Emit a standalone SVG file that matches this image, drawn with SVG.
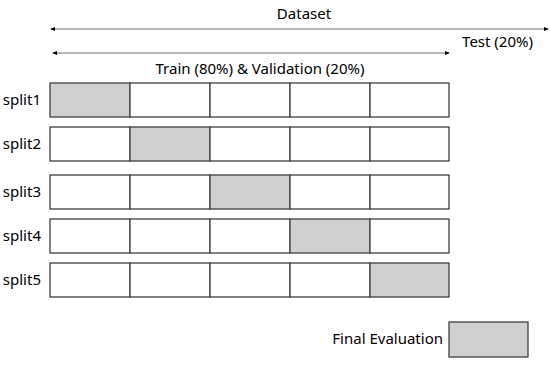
<svg xmlns="http://www.w3.org/2000/svg" width="550" height="366" viewBox="0 0 550 366">
<defs>
<style>
text{font-family:"Noto Sans","Open Sans",sans-serif;font-size:15px;fill:#000}
.c{fill:#fff;stroke:#404040;stroke-width:1.3}
.g{fill:#d0d0d0;stroke:#404040;stroke-width:1.3}
.a{stroke:#a0a0a0;stroke-width:1.5;fill:none}
</style>
<marker id="ae" viewBox="0 0 6 6" refX="5" refY="3" markerWidth="5" markerHeight="5" orient="auto-start-reverse" markerUnits="userSpaceOnUse"><path d="M0,0.5L6,3L0,5.5z" fill="#000"/></marker>
</defs>
<rect width="550" height="366" fill="#fff"/>
<g id="connectors">
<line class="a" x1="51" y1="29" x2="548" y2="29" marker-start="url(#ae)" marker-end="url(#ae)"/>
<line class="a" x1="53" y1="53" x2="449" y2="53" marker-start="url(#ae)" marker-end="url(#ae)"/>
</g>
<g id="labels">
<text x="304" y="19" text-anchor="middle">Dataset</text>
<text x="533" y="47" text-anchor="end">Test (20%)</text>
<text x="260" y="74" text-anchor="middle">Train (80%) &amp; Validation (20%)</text>
</g>
<g id="split1">
<text x="41" y="105" text-anchor="end">split1</text>
<rect class="g" x="50" y="83" width="80" height="34"/><rect class="c" x="130" y="83" width="80" height="34"/><rect class="c" x="210" y="83" width="80" height="34"/><rect class="c" x="290" y="83" width="80" height="34"/><rect class="c" x="370" y="83" width="79" height="34"/>
</g>
<g id="split2">
<text x="41" y="149" text-anchor="end">split2</text>
<rect class="c" x="50" y="127" width="80" height="34"/><rect class="g" x="130" y="127" width="80" height="34"/><rect class="c" x="210" y="127" width="80" height="34"/><rect class="c" x="290" y="127" width="80" height="34"/><rect class="c" x="370" y="127" width="79" height="34"/>
</g>
<g id="split3">
<text x="41" y="197" text-anchor="end">split3</text>
<rect class="c" x="50" y="175" width="80" height="34"/><rect class="c" x="130" y="175" width="80" height="34"/><rect class="g" x="210" y="175" width="80" height="34"/><rect class="c" x="290" y="175" width="80" height="34"/><rect class="c" x="370" y="175" width="79" height="34"/>
</g>
<g id="split4">
<text x="41" y="241" text-anchor="end">split4</text>
<rect class="c" x="50" y="219" width="80" height="34"/><rect class="c" x="130" y="219" width="80" height="34"/><rect class="c" x="210" y="219" width="80" height="34"/><rect class="g" x="290" y="219" width="80" height="34"/><rect class="c" x="370" y="219" width="79" height="34"/>
</g>
<g id="split5">
<text x="41" y="285" text-anchor="end">split5</text>
<rect class="c" x="50" y="263" width="80" height="34"/><rect class="c" x="130" y="263" width="80" height="34"/><rect class="c" x="210" y="263" width="80" height="34"/><rect class="c" x="290" y="263" width="80" height="34"/><rect class="g" x="370" y="263" width="79" height="34"/>
</g>
<g id="final">
<text x="443" y="344" text-anchor="end">Final Evaluation</text>
<rect class="g" x="449" y="322" width="79" height="35"/>
</g>
</svg>
